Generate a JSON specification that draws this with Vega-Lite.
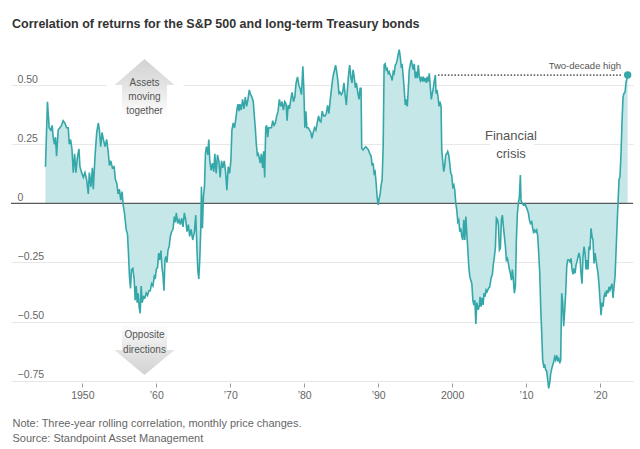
{
  "$schema": "https://vega.github.io/schema/vega-lite/v6.json",
  "width": 622,
  "height": 338,
  "autosize": {"type": "none"},
  "padding": {"left": 11, "top": 45, "right": 7, "bottom": 66},
  "background": "white",
  "config": {"view": {"stroke": null}, "font": "Liberation Sans"},
  "title": {
    "text": "Correlation of returns for the S&P 500 and long-term Treasury bonds",
    "anchor": "start",
    "frame": "group",
    "baseline": "alphabetic",
    "offset": 5,
    "dx": 1,
    "fontSize": 12.5,
    "fontWeight": "bold",
    "color": "#333333",
    "font": "Liberation Sans"
  },
  "data": {"values": [{}]},
  "datasets": {
    "corr": [
      {"year":1945.02,"corr":0.155},{"year":1945.29,"corr":0.43},{"year":1945.52,"corr":0.32},{"year":1945.75,"corr":0.31},{"year":1945.93,"corr":0.33},{"year":1946.06,"corr":0.28},{"year":1946.24,"corr":0.25},{"year":1946.38,"corr":0.28},{"year":1946.52,"corr":0.20},{"year":1946.74,"corr":0.31},{"year":1946.97,"corr":0.32},{"year":1947.19,"corr":0.33},{"year":1947.42,"corr":0.35},{"year":1947.65,"corr":0.34},{"year":1947.87,"corr":0.32},{"year":1948.10,"corr":0.32},{"year":1948.24,"corr":0.25},{"year":1948.42,"corr":0.27},{"year":1948.60,"corr":0.23},{"year":1948.78,"corr":0.13},{"year":1948.96,"corr":0.21},{"year":1949.14,"corr":0.13},{"year":1949.32,"corr":0.19},{"year":1949.55,"corr":0.23},{"year":1949.68,"corr":0.155},{"year":1949.91,"corr":0.13},
      {"year":1950.14,"corr":0.11},{"year":1950.36,"corr":0.13},{"year":1950.59,"corr":0.10},{"year":1950.81,"corr":0.04},{"year":1950.95,"corr":0.13},{"year":1951.18,"corr":0.07},{"year":1951.36,"corr":0.15},{"year":1951.49,"corr":0.06},{"year":1951.72,"corr":0.20},{"year":1951.95,"corr":0.30},{"year":1952.17,"corr":0.34},{"year":1952.31,"corr":0.31},{"year":1952.49,"corr":0.24},{"year":1952.67,"corr":0.30},{"year":1952.85,"corr":0.27},{"year":1953.08,"corr":0.24},{"year":1953.30,"corr":0.27},{"year":1953.53,"corr":0.21},{"year":1953.67,"corr":0.16},{"year":1953.85,"corr":0.18},{"year":1954.07,"corr":0.15},{"year":1954.30,"corr":0.155},{"year":1954.48,"corr":0.10},{"year":1954.66,"corr":0.085},{"year":1954.84,"corr":0.04},{"year":1955.02,"corr":0.06},{"year":1955.20,"corr":0.014},{"year":1955.38,"corr":0.05},{"year":1955.52,"corr":-0.007},{"year":1955.70,"corr":-0.04},{"year":1955.93,"corr":-0.11},{"year":1956.11,"corr":-0.13},{"year":1956.24,"corr":-0.21},{"year":1956.38,"corr":-0.31},{"year":1956.52,"corr":-0.36},{"year":1956.65,"corr":-0.28},{"year":1956.83,"corr":-0.275},{"year":1957.01,"corr":-0.32},{"year":1957.15,"corr":-0.41},{"year":1957.29,"corr":-0.35},{"year":1957.42,"corr":-0.42},{"year":1957.56,"corr":-0.38},{"year":1957.69,"corr":-0.44},{"year":1957.83,"corr":-0.465},{"year":1957.96,"corr":-0.35},{"year":1958.10,"corr":-0.42},{"year":1958.28,"corr":-0.395},{"year":1958.46,"corr":-0.40},{"year":1958.64,"corr":-0.38},{"year":1958.82,"corr":-0.39},{"year":1959.00,"corr":-0.37},{"year":1959.19,"corr":-0.37},{"year":1959.37,"corr":-0.34},{"year":1959.55,"corr":-0.35},{"year":1959.73,"corr":-0.31},{"year":1959.86,"corr":-0.32},
      {"year":1960.00,"corr":-0.28},{"year":1960.18,"corr":-0.27},{"year":1960.32,"corr":-0.21},{"year":1960.45,"corr":-0.24},{"year":1960.63,"corr":-0.20},{"year":1960.77,"corr":-0.27},{"year":1960.90,"corr":-0.30},{"year":1961.04,"corr":-0.37},{"year":1961.18,"corr":-0.24},{"year":1961.31,"corr":-0.225},{"year":1961.45,"corr":-0.25},{"year":1961.58,"corr":-0.20},{"year":1961.76,"corr":-0.18},{"year":1961.90,"corr":-0.14},{"year":1962.08,"corr":-0.12},{"year":1962.26,"corr":-0.11},{"year":1962.44,"corr":-0.056},{"year":1962.58,"corr":-0.08},{"year":1962.71,"corr":-0.04},{"year":1962.90,"corr":-0.085},{"year":1963.08,"corr":-0.07},{"year":1963.26,"corr":-0.09},{"year":1963.44,"corr":-0.063},{"year":1963.62,"corr":-0.10},{"year":1963.80,"corr":-0.04},{"year":1963.98,"corr":-0.07},{"year":1964.16,"corr":-0.12},{"year":1964.34,"corr":-0.09},{"year":1964.52,"corr":-0.14},{"year":1964.71,"corr":-0.11},{"year":1964.93,"corr":-0.155},{"year":1965.16,"corr":-0.12},{"year":1965.34,"corr":-0.05},{"year":1965.48,"corr":-0.17},{"year":1965.61,"corr":-0.28},{"year":1965.75,"corr":-0.32},{"year":1965.88,"corr":-0.24},{"year":1966.02,"corr":-0.11},{"year":1966.11,"corr":0.07},{"year":1966.24,"corr":-0.105},{"year":1966.38,"corr":0.03},{"year":1966.52,"corr":0.07},{"year":1966.65,"corr":0.21},{"year":1966.79,"corr":0.24},{"year":1966.97,"corr":0.205},{"year":1967.10,"corr":0.27},{"year":1967.24,"corr":0.18},{"year":1967.42,"corr":0.14},{"year":1967.60,"corr":0.17},{"year":1967.78,"corr":0.134},{"year":1967.92,"corr":0.21},{"year":1968.10,"corr":0.127},{"year":1968.28,"corr":0.205},{"year":1968.46,"corr":0.18},{"year":1968.64,"corr":0.11},{"year":1968.82,"corr":0.18},{"year":1969.00,"corr":0.15},{"year":1969.19,"corr":0.18},{"year":1969.37,"corr":0.134},{"year":1969.55,"corr":0.056},{"year":1969.73,"corr":0.155},{"year":1969.91,"corr":0.127},
      {"year":1970.09,"corr":0.18},{"year":1970.23,"corr":0.31},{"year":1970.41,"corr":0.34},{"year":1970.59,"corr":0.32},{"year":1970.77,"corr":0.36},{"year":1970.90,"corr":0.395},{"year":1971.04,"corr":0.42},{"year":1971.18,"corr":0.39},{"year":1971.31,"corr":0.42},{"year":1971.49,"corr":0.395},{"year":1971.67,"corr":0.44},{"year":1971.86,"corr":0.40},{"year":1972.04,"corr":0.45},{"year":1972.22,"corr":0.41},{"year":1972.40,"corr":0.44},{"year":1972.58,"corr":0.48},{"year":1972.76,"corr":0.46},{"year":1972.94,"corr":0.45},{"year":1973.12,"corr":0.43},{"year":1973.26,"corr":0.37},{"year":1973.39,"corr":0.32},{"year":1973.53,"corr":0.25},{"year":1973.67,"corr":0.205},{"year":1973.80,"corr":0.21},{"year":1973.94,"corr":0.19},{"year":1974.07,"corr":0.17},{"year":1974.21,"corr":0.21},{"year":1974.39,"corr":0.15},{"year":1974.52,"corr":0.22},{"year":1974.66,"corr":0.11},{"year":1974.80,"corr":0.32},{"year":1974.93,"corr":0.33},{"year":1975.07,"corr":0.28},{"year":1975.20,"corr":0.32},{"year":1975.38,"corr":0.32},{"year":1975.57,"corr":0.32},{"year":1975.75,"corr":0.35},{"year":1975.93,"corr":0.33},{"year":1976.11,"corr":0.34},{"year":1976.29,"corr":0.37},{"year":1976.47,"corr":0.39},{"year":1976.65,"corr":0.44},{"year":1976.83,"corr":0.41},{"year":1977.01,"corr":0.43},{"year":1977.19,"corr":0.395},{"year":1977.38,"corr":0.43},{"year":1977.56,"corr":0.42},{"year":1977.69,"corr":0.35},{"year":1977.83,"corr":0.415},{"year":1978.01,"corr":0.40},{"year":1978.19,"corr":0.44},{"year":1978.37,"corr":0.47},{"year":1978.55,"corr":0.43},{"year":1978.73,"corr":0.45},{"year":1978.91,"corr":0.51},{"year":1979.10,"corr":0.535},{"year":1979.28,"corr":0.50},{"year":1979.46,"corr":0.485},{"year":1979.64,"corr":0.46},{"year":1979.82,"corr":0.58},{"year":1979.95,"corr":0.49},
      {"year":1980.09,"corr":0.32},{"year":1980.23,"corr":0.39},{"year":1980.36,"corr":0.32},{"year":1980.54,"corr":0.32},{"year":1980.72,"corr":0.31},{"year":1980.90,"corr":0.30},{"year":1981.04,"corr":0.275},{"year":1981.22,"corr":0.30},{"year":1981.40,"corr":0.32},{"year":1981.58,"corr":0.31},{"year":1981.76,"corr":0.34},{"year":1981.95,"corr":0.37},{"year":1982.08,"corr":0.35},{"year":1982.26,"corr":0.345},{"year":1982.44,"corr":0.39},{"year":1982.62,"corr":0.37},{"year":1982.81,"corr":0.37},{"year":1982.99,"corr":0.38},{"year":1983.17,"corr":0.415},{"year":1983.35,"corr":0.38},{"year":1983.53,"corr":0.44},{"year":1983.71,"corr":0.49},{"year":1983.89,"corr":0.535},{"year":1984.07,"corr":0.56},{"year":1984.25,"corr":0.585},{"year":1984.43,"corr":0.55},{"year":1984.57,"corr":0.515},{"year":1984.71,"corr":0.465},{"year":1984.84,"corr":0.47},{"year":1985.02,"corr":0.46},{"year":1985.20,"corr":0.47},{"year":1985.38,"corr":0.51},{"year":1985.52,"corr":0.465},{"year":1985.70,"corr":0.416},{"year":1985.84,"corr":0.48},{"year":1986.02,"corr":0.55},{"year":1986.15,"corr":0.585},{"year":1986.33,"corr":0.53},{"year":1986.47,"corr":0.51},{"year":1986.61,"corr":0.565},{"year":1986.74,"corr":0.54},{"year":1986.92,"corr":0.49},{"year":1987.06,"corr":0.51},{"year":1987.24,"corr":0.47},{"year":1987.42,"corr":0.44},{"year":1987.56,"corr":0.487},{"year":1987.69,"corr":0.487},{"year":1987.78,"corr":0.233},{"year":1987.96,"corr":0.226},{"year":1988.14,"corr":0.233},{"year":1988.33,"corr":0.24},{"year":1988.51,"corr":0.233},{"year":1988.69,"corr":0.226},{"year":1988.87,"corr":0.21},{"year":1989.05,"corr":0.20},{"year":1989.19,"corr":0.16},{"year":1989.32,"corr":0.17},{"year":1989.46,"corr":0.127},{"year":1989.59,"corr":0.134},{"year":1989.73,"corr":0.085},{"year":1989.86,"corr":0.03},
      {"year":1990.00,"corr":-0.007},{"year":1990.14,"corr":0.02},{"year":1990.27,"corr":0.04},{"year":1990.41,"corr":0.078},{"year":1990.54,"corr":0.10},{"year":1990.68,"corr":0.24},{"year":1990.81,"corr":0.585},{"year":1990.95,"corr":0.59},{"year":1991.09,"corr":0.565},{"year":1991.22,"corr":0.57},{"year":1991.36,"corr":0.55},{"year":1991.49,"corr":0.557},{"year":1991.63,"corr":0.543},{"year":1991.76,"corr":0.536},{"year":1991.90,"corr":0.52},{"year":1992.04,"corr":0.557},{"year":1992.17,"corr":0.55},{"year":1992.31,"corr":0.585},{"year":1992.44,"corr":0.59},{"year":1992.58,"corr":0.607},{"year":1992.71,"corr":0.63},{"year":1992.85,"corr":0.65},{"year":1992.99,"corr":0.62},{"year":1993.12,"corr":0.58},{"year":1993.26,"corr":0.585},{"year":1993.39,"corr":0.536},{"year":1993.53,"corr":0.48},{"year":1993.67,"corr":0.416},{"year":1993.80,"corr":0.44},{"year":1993.94,"corr":0.41},{"year":1994.07,"corr":0.48},{"year":1994.21,"corr":0.565},{"year":1994.34,"corr":0.585},{"year":1994.48,"corr":0.607},{"year":1994.62,"corr":0.585},{"year":1994.75,"corr":0.565},{"year":1994.89,"corr":0.59},{"year":1995.02,"corr":0.53},{"year":1995.16,"corr":0.557},{"year":1995.29,"corr":0.53},{"year":1995.43,"corr":0.585},{"year":1995.57,"corr":0.536},{"year":1995.70,"corr":0.52},{"year":1995.84,"corr":0.536},{"year":1995.97,"corr":0.515},{"year":1996.11,"corr":0.536},{"year":1996.24,"corr":0.515},{"year":1996.38,"corr":0.53},{"year":1996.52,"corr":0.51},{"year":1996.65,"corr":0.536},{"year":1996.79,"corr":0.515},{"year":1996.92,"corr":0.55},{"year":1997.06,"corr":0.49},{"year":1997.19,"corr":0.44},{"year":1997.33,"corr":0.465},{"year":1997.47,"corr":0.49},{"year":1997.60,"corr":0.52},{"year":1997.74,"corr":0.543},{"year":1997.83,"corr":0.465},{"year":1997.96,"corr":0.48},{"year":1998.10,"corr":0.45},{"year":1998.24,"corr":0.41},{"year":1998.37,"corr":0.43},{"year":1998.51,"corr":0.41},{"year":1998.60,"corr":0.226},{"year":1998.73,"corr":0.18},{"year":1998.87,"corr":0.134},{"year":1999.00,"corr":0.16},{"year":1999.14,"corr":0.205},{"year":1999.28,"corr":0.21},{"year":1999.41,"corr":0.22},{"year":1999.55,"corr":0.205},{"year":1999.68,"corr":0.17},{"year":1999.82,"corr":0.127},{"year":1999.95,"corr":0.12},
      {"year":2000.09,"corr":0.07},{"year":2000.23,"corr":0.078},{"year":2000.36,"corr":0.056},{"year":2000.50,"corr":0.0},{"year":2000.63,"corr":-0.028},{"year":2000.77,"corr":-0.078},{"year":2000.90,"corr":-0.07},{"year":2001.04,"corr":-0.12},{"year":2001.18,"corr":-0.106},{"year":2001.31,"corr":-0.14},{"year":2001.45,"corr":-0.155},{"year":2001.58,"corr":-0.07},{"year":2001.72,"corr":-0.155},{"year":2001.86,"corr":-0.056},{"year":2001.99,"corr":-0.127},{"year":2002.13,"corr":-0.197},{"year":2002.26,"corr":-0.27},{"year":2002.40,"corr":-0.31},{"year":2002.53,"corr":-0.325},{"year":2002.67,"corr":-0.34},{"year":2002.81,"corr":-0.41},{"year":2002.94,"corr":-0.43},{"year":2003.08,"corr":-0.41},{"year":2003.21,"corr":-0.51},{"year":2003.35,"corr":-0.42},{"year":2003.53,"corr":-0.45},{"year":2003.71,"corr":-0.43},{"year":2003.78,"corr":-0.395},{"year":2003.92,"corr":-0.437},{"year":2004.05,"corr":-0.40},{"year":2004.19,"corr":-0.43},{"year":2004.32,"corr":-0.38},{"year":2004.46,"corr":-0.395},{"year":2004.59,"corr":-0.367},{"year":2004.73,"corr":-0.374},{"year":2004.91,"corr":-0.36},{"year":2005.09,"corr":-0.353},{"year":2005.27,"corr":-0.317},{"year":2005.45,"corr":-0.30},{"year":2005.59,"corr":-0.254},{"year":2005.72,"corr":-0.226},{"year":2005.86,"corr":-0.183},{"year":2005.99,"corr":-0.063},{"year":2006.13,"corr":-0.07},{"year":2006.26,"corr":-0.092},{"year":2006.40,"corr":-0.197},{"year":2006.53,"corr":-0.19},{"year":2006.67,"corr":-0.07},{"year":2006.80,"corr":-0.05},{"year":2006.94,"corr":-0.10},{"year":2007.07,"corr":-0.14},{"year":2007.21,"corr":-0.183},{"year":2007.34,"corr":-0.24},{"year":2007.48,"corr":-0.233},{"year":2007.61,"corr":-0.254},{"year":2007.75,"corr":-0.28},{"year":2007.88,"corr":-0.296},{"year":2008.02,"corr":-0.325},{"year":2008.15,"corr":-0.28},{"year":2008.29,"corr":-0.325},{"year":2008.42,"corr":-0.38},{"year":2008.56,"corr":-0.353},{"year":2008.69,"corr":-0.155},{"year":2008.83,"corr":-0.042},{"year":2008.96,"corr":0.0},{"year":2009.10,"corr":0.028},{"year":2009.23,"corr":0.12},{"year":2009.32,"corr":0.014},{"year":2009.46,"corr":0.0},{"year":2009.64,"corr":-0.007},{"year":2009.86,"corr":-0.003},
      {"year":2010.09,"corr":-0.02},{"year":2010.32,"corr":-0.042},{"year":2010.45,"corr":-0.07},{"year":2010.59,"corr":-0.085},{"year":2010.77,"corr":-0.078},{"year":2010.90,"corr":-0.106},{"year":2011.04,"corr":-0.127},{"year":2011.17,"corr":-0.113},{"year":2011.31,"corr":-0.12},{"year":2011.44,"corr":-0.113},{"year":2011.58,"corr":-0.14},{"year":2011.71,"corr":-0.21},{"year":2011.85,"corr":-0.296},{"year":2011.98,"corr":-0.437},{"year":2012.12,"corr":-0.55},{"year":2012.25,"corr":-0.663},{"year":2012.39,"corr":-0.69},{"year":2012.52,"corr":-0.685},{"year":2012.66,"corr":-0.705},{"year":2012.79,"corr":-0.71},{"year":2012.93,"corr":-0.748},{"year":2013.06,"corr":-0.783},{"year":2013.20,"corr":-0.76},{"year":2013.33,"corr":-0.72},{"year":2013.47,"corr":-0.70},{"year":2013.60,"corr":-0.685},{"year":2013.74,"corr":-0.67},{"year":2013.87,"corr":-0.65},{"year":2014.01,"corr":-0.663},{"year":2014.14,"corr":-0.642},{"year":2014.28,"corr":-0.663},{"year":2014.41,"corr":-0.656},{"year":2014.55,"corr":-0.677},{"year":2014.68,"corr":-0.663},{"year":2014.82,"corr":-0.38},{"year":2014.95,"corr":-0.42},{"year":2015.09,"corr":-0.52},{"year":2015.23,"corr":-0.45},{"year":2015.36,"corr":-0.38},{"year":2015.50,"corr":-0.268},{"year":2015.63,"corr":-0.24},{"year":2015.81,"corr":-0.24},{"year":2015.95,"corr":-0.247},{"year":2016.08,"corr":-0.233},{"year":2016.22,"corr":-0.28},{"year":2016.35,"corr":-0.30},{"year":2016.49,"corr":-0.275},{"year":2016.62,"corr":-0.296},{"year":2016.76,"corr":-0.26},{"year":2016.89,"corr":-0.247},{"year":2017.03,"corr":-0.226},{"year":2017.16,"corr":-0.21},{"year":2017.30,"corr":-0.233},{"year":2017.43,"corr":-0.296},{"year":2017.57,"corr":-0.34},{"year":2017.70,"corr":-0.226},{"year":2017.84,"corr":-0.183},{"year":2017.97,"corr":-0.21},{"year":2018.11,"corr":-0.28},{"year":2018.24,"corr":-0.24},{"year":2018.38,"corr":-0.28},{"year":2018.51,"corr":-0.183},{"year":2018.65,"corr":-0.197},{"year":2018.78,"corr":-0.106},{"year":2018.92,"corr":-0.14},{"year":2019.05,"corr":-0.155},{"year":2019.19,"corr":-0.254},{"year":2019.32,"corr":-0.21},{"year":2019.46,"corr":-0.24},{"year":2019.59,"corr":-0.268},{"year":2019.73,"corr":-0.296},{"year":2019.86,"corr":-0.34},
      {"year":2020.00,"corr":-0.41},{"year":2020.14,"corr":-0.473},{"year":2020.27,"corr":-0.42},{"year":2020.41,"corr":-0.437},{"year":2020.54,"corr":-0.395},{"year":2020.68,"corr":-0.38},{"year":2020.81,"corr":-0.395},{"year":2020.95,"corr":-0.367},{"year":2021.08,"corr":-0.38},{"year":2021.22,"corr":-0.353},{"year":2021.35,"corr":-0.367},{"year":2021.49,"corr":-0.353},{"year":2021.62,"corr":-0.34},{"year":2021.76,"corr":-0.40},{"year":2021.89,"corr":-0.353},{"year":2022.03,"corr":-0.31},{"year":2022.16,"corr":-0.21},{"year":2022.30,"corr":-0.10},{"year":2022.43,"corr":0.0},{"year":2022.57,"corr":0.10},{"year":2022.70,"corr":0.113},{"year":2022.84,"corr":0.21},{"year":2022.97,"corr":0.34},{"year":2023.11,"corr":0.45},{"year":2023.24,"corr":0.465},{"year":2023.38,"corr":0.47},{"year":2023.51,"corr":0.51},{"year":2023.65,"corr":0.53},{"year":2023.74,"corr":0.543}
    ],
    "last": [{"year": 2023.74, "corr": 0.543}]
  },
  "layer": [
    {
      "data": {"name": "corr"},
      "mark": {"type": "area", "color": "#c6e7e8", "opacity": 1},
      "encoding": {
        "x": {
          "field": "year", "type": "quantitative",
          "scale": {"domain": [1940.36, 2024.46], "nice": false, "zero": false},
          "axis": {
            "values": [1950, 1960, 1970, 1980, 1990, 2000, 2010, 2020],
            "labelExpr": "datum.value == 1950 || datum.value == 2000 ? '' + datum.value : '\u2019' + substring('' + datum.value, 2, 4)",
            "domain": false, "grid": false,
            "tickSize": 4, "tickColor": "#9a9a9a", "tickWidth": 1,
            "labelPadding": 3, "labelFontSize": 10.5, "labelColor": "#666666", "labelFlush": false,
            "title": ["Note: Three-year rolling correlation, monthly price changes.", "Source: Standpoint Asset Management"],
            "titleAnchor": "start", "titleAlign": "left", "titleBaseline": "alphabetic",
            "titleX": 1, "titleY": 43, "titleFontSize": 11, "titleFontWeight": "normal",
            "titleColor": "#666666", "titleLineHeight": 15.5
          }
        },
        "y": {
          "field": "corr", "type": "quantitative",
          "scale": {"domain": [-0.76, 0.67], "nice": false, "zero": false},
          "axis": {
            "values": [-0.75, -0.5, -0.25, 0, 0.25, 0.5],
            "labelExpr": "datum.value == 0 ? '0' : format(datum.value, '.2f')",
            "domain": false, "ticks": false, "tickSize": 0,
            "grid": true, "gridColor": "#e8e8e8", "gridWidth": 1,
            "labelAlign": "left", "labelPadding": -6, "labelBaseline": "alphabetic", "labelOffset": -3,
            "labelFontSize": 10.5, "labelColor": "#666666", "labelFlush": false, "labelBound": false,
            "title": null
          }
        },
        "y2": {"datum": 0}
      }
    },
    {
      "mark": {"type": "rect", "color": "white"},
      "encoding": {
        "x": {"datum": 1953.3, "type": "quantitative"},
        "x2": {"datum": 1963.66},
        "y": {"datum": 0.46, "type": "quantitative"},
        "y2": {"datum": 0.54}
      }
    },
    {
      "mark": {"type": "rect", "color": "white"},
      "encoding": {
        "x": {"datum": 2005.13, "type": "quantitative"},
        "x2": {"datum": 2011.07},
        "y": {"datum": 0.21, "type": "quantitative"},
        "y2": {"datum": 0.29}
      }
    },
    {
      "mark": {"type": "rule", "color": "#5a5a5a", "strokeWidth": 1.2},
      "encoding": {"y": {"datum": 0, "type": "quantitative"}}
    },
    {
      "data": {"name": "corr"},
      "mark": {"type": "line", "color": "#35a7a9", "strokeWidth": 1.6},
      "encoding": {
        "x": {"field": "year", "type": "quantitative"},
        "y": {"field": "corr", "type": "quantitative"}
      }
    },
    {
      "mark": {
        "type": "point", "filled": true, "opacity": 1, "strokeWidth": 0,
        "shape": "M0,-0.967L1,-0.1L0.75,-0.1L0.75,0.967L-0.75,0.967L-0.75,-0.1L-1,-0.1Z",
        "size": 3600,
        "fill": {"gradient": "linear", "x1": 0, "y1": 0, "x2": 0, "y2": 1,
          "stops": [{"offset": 0, "color": "#d2d2d2"}, {"offset": 0.45, "color": "#e3e3e3"}, {"offset": 1, "color": "#ffffff"}]}
      },
      "encoding": {
        "x": {"datum": 1958.41, "type": "quantitative"},
        "y": {"datum": 0.4877, "type": "quantitative"}
      }
    },
    {
      "mark": {
        "type": "point", "filled": true, "opacity": 1, "strokeWidth": 0,
        "shape": "M-0.75,-0.867L0.75,-0.867L0.75,0.033L1,0.033L0,0.867L-1,0.033L-0.75,0.033Z",
        "size": 3600,
        "fill": {"gradient": "linear", "x1": 0, "y1": 0, "x2": 0, "y2": 1,
          "stops": [{"offset": 0, "color": "#ffffff"}, {"offset": 0.55, "color": "#e3e3e3"}, {"offset": 1, "color": "#d2d2d2"}]}
      },
      "encoding": {
        "x": {"datum": 1958.41, "type": "quantitative"},
        "y": {"datum": -0.6163, "type": "quantitative"}
      }
    },
    {
      "mark": {"type": "text", "align": "center", "baseline": "middle", "fontSize": 10, "color": "#555555", "lineHeight": 14.2,
        "text": ["Assets", "moving", "together"]},
      "encoding": {
        "x": {"datum": 1958.41, "type": "quantitative"},
        "y": {"datum": 0.5102, "type": "quantitative"}
      }
    },
    {
      "mark": {"type": "text", "align": "center", "baseline": "middle", "fontSize": 10, "color": "#555555", "lineHeight": 15,
        "text": ["Opposite", "directions"]},
      "encoding": {
        "x": {"datum": 1958.41, "type": "quantitative"},
        "y": {"datum": -0.5571, "type": "quantitative"}
      }
    },
    {
      "mark": {"type": "text", "align": "center", "baseline": "middle", "fontSize": 13, "color": "#555555", "lineHeight": 18,
        "text": ["Financial", "crisis"]},
      "encoding": {
        "x": {"datum": 2007.96, "type": "quantitative"},
        "y": {"datum": 0.286, "type": "quantitative"}
      }
    },
    {
      "mark": {"type": "rule", "color": "#666666", "strokeWidth": 1.6, "strokeDash": [1.5, 1.8]},
      "encoding": {
        "x": {"datum": 1998.09, "type": "quantitative"},
        "x2": {"datum": 2022.94},
        "y": {"datum": 0.5427, "type": "quantitative"}
      }
    },
    {
      "mark": {"type": "text", "align": "right", "baseline": "middle", "fontSize": 9.5, "color": "#555555",
        "text": "Two-decade high"},
      "encoding": {
        "x": {"datum": 2022.84, "type": "quantitative"},
        "y": {"datum": 0.5808, "type": "quantitative"}
      }
    },
    {
      "data": {"name": "last"},
      "mark": {"type": "point", "filled": true, "opacity": 1, "color": "#35a7a9", "size": 55},
      "encoding": {
        "x": {"field": "year", "type": "quantitative"},
        "y": {"field": "corr", "type": "quantitative"}
      }
    }
  ]
}
